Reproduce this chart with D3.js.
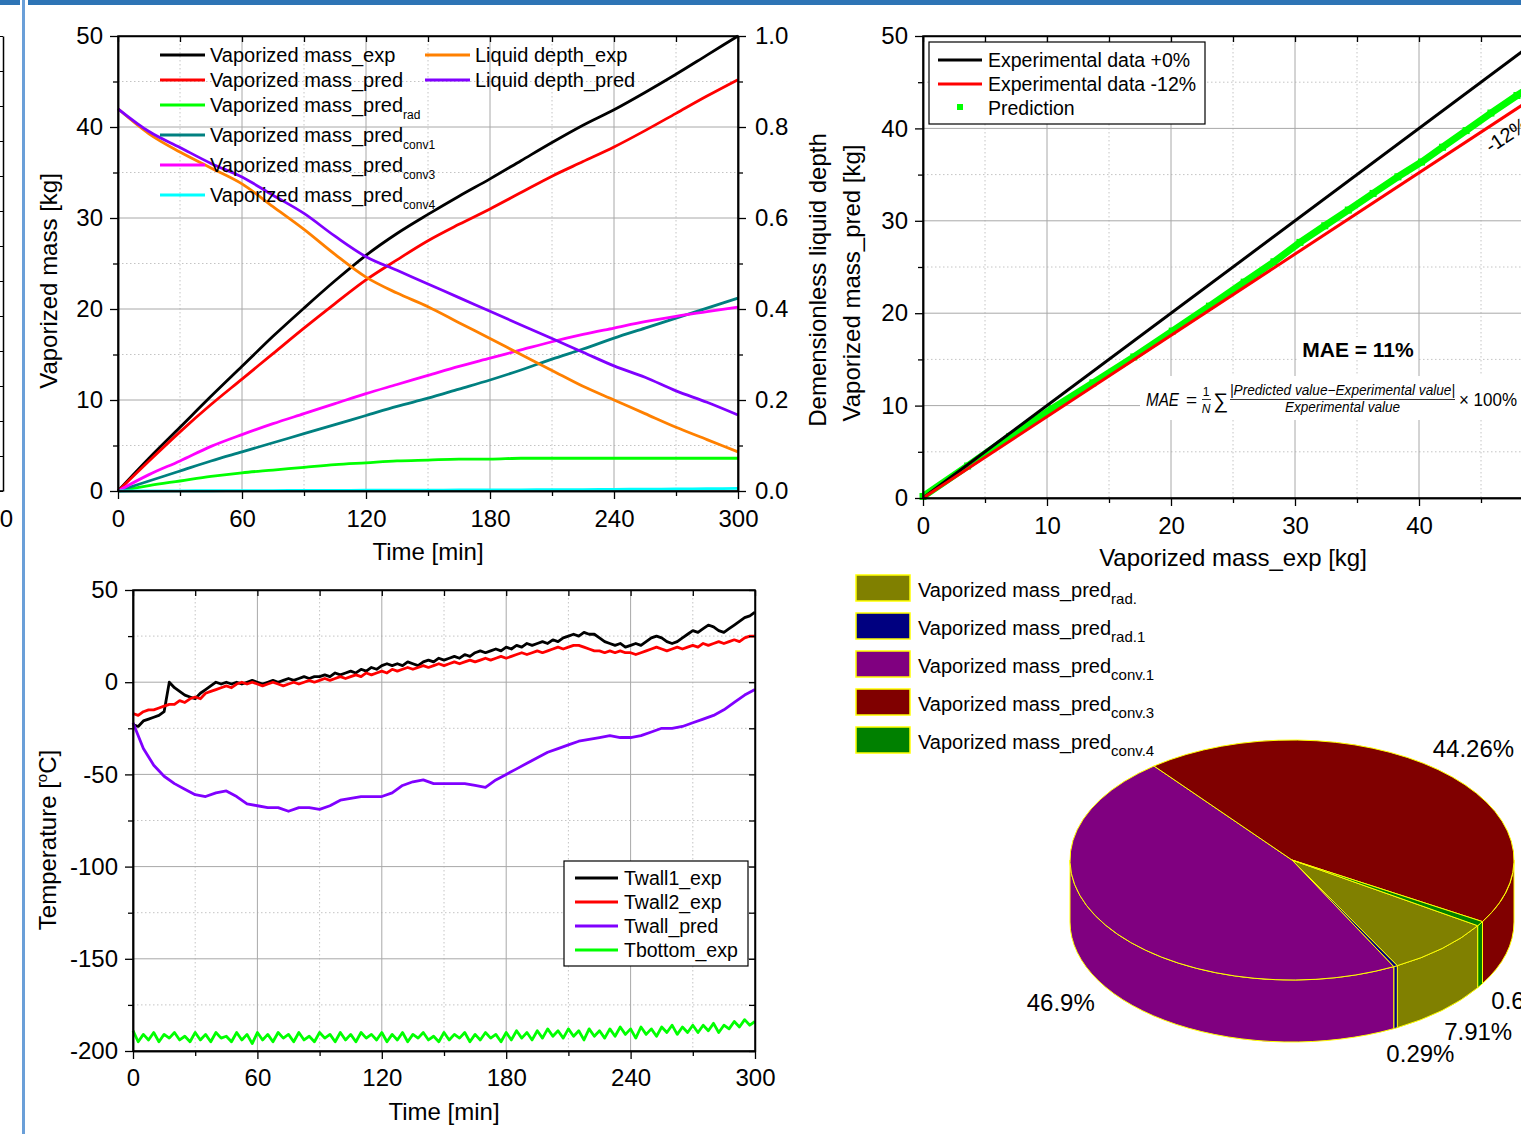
<!DOCTYPE html>
<html>
<head>
<meta charset="utf-8">
<script src="https://cdn.jsdelivr.net/npm/d3@7"></script>
<style>
  body { margin: 0; background: #fff; }
  svg text { font-family: "Liberation Sans", Arial, sans-serif; fill: #000; }
  .major { stroke: #a8a8a8; stroke-width: 1; }
  .minor { stroke: #c4c4c4; stroke-width: 1; stroke-dasharray: 1.5 2.5; }
  .frame { fill: none; stroke: #000; stroke-width: 1.5; }
</style>
</head>
<body>
<svg id="fig" width="1521" height="1134"></svg>
<script>
// ---- top-left: vaporized mass / liquid depth vs time ----
const tA = [0, 15, 30, 45, 60, 75, 90, 105, 120, 135, 150, 165, 180, 195, 210, 225, 240, 255, 270, 285, 300];
const massExp   = [0, 3.6, 7.0, 10.4, 13.7, 17.0, 20.1, 23.1, 25.9, 28.3, 30.4, 32.4, 34.3, 36.3, 38.3, 40.2, 41.9, 43.8, 45.8, 47.9, 50.0];
const massPred  = [0, 3.3, 6.5, 9.5, 12.3, 15.1, 17.9, 20.6, 23.2, 25.4, 27.5, 29.3, 31.0, 32.8, 34.6, 36.2, 37.8, 39.6, 41.5, 43.4, 45.2];
const massRad   = [0, 0.6, 1.1, 1.6, 2.0, 2.3, 2.6, 2.9, 3.1, 3.3, 3.4, 3.5, 3.5, 3.6, 3.6, 3.6, 3.6, 3.6, 3.6, 3.6, 3.6];
const massConv1 = [0, 1.1, 2.2, 3.3, 4.3, 5.3, 6.3, 7.3, 8.3, 9.3, 10.2, 11.2, 12.2, 13.3, 14.5, 15.6, 16.8, 17.9, 19.0, 20.1, 21.2];
const massConv3 = [0, 1.8, 3.3, 4.9, 6.2, 7.4, 8.5, 9.6, 10.7, 11.7, 12.7, 13.7, 14.6, 15.5, 16.4, 17.2, 17.9, 18.6, 19.2, 19.7, 20.2];
const massConv4 = [0, 0.01, 0.02, 0.03, 0.04, 0.05, 0.06, 0.07, 0.08, 0.09, 0.10, 0.11, 0.12, 0.13, 0.15, 0.16, 0.18, 0.20, 0.22, 0.25, 0.28];
const depthExp  = [0.84, 0.785, 0.745, 0.71, 0.675, 0.625, 0.575, 0.52, 0.47, 0.435, 0.405, 0.37, 0.335, 0.30, 0.265, 0.23, 0.20, 0.17, 0.14, 0.113, 0.086];
const depthPred = [0.84, 0.79, 0.755, 0.72, 0.69, 0.65, 0.61, 0.56, 0.515, 0.485, 0.455, 0.425, 0.395, 0.365, 0.335, 0.305, 0.275, 0.25, 0.22, 0.195, 0.167];

// ---- top-right: parity plot ----
const refFactors = [1.0, 0.88];
const refNames = ["Experimental data +0%", "Experimental data -12%", "Prediction"];

// ---- bottom-left: temperatures, sampled every 2.5 min (purple every 5 min) ----
const stepC = 2.5;
const twall1 = [-23,-24,-21,-20,-19,-18,-16,0,-3,-5,-7,-8,-9,-6,-4,-2,0,-1,0,-1,
  0,-1,0,1,0,-1,0,1,0,1,2,1,2,3,2,3,3,4,3,5,
  4,5,6,5,7,6,8,7,9,10,9,10,9,11,10,9,11,12,11,13,
  12,13,14,13,15,14,16,17,16,17,18,17,19,18,20,19,21,20,21,22,
  21,23,22,24,25,26,25,27,26,26,24,22,21,20,21,19,20,21,20,22,
  24,25,24,22,21,22,24,26,28,27,29,31,30,28,27,29,31,33,35,36,38];
const twall2 = [-17,-18,-16,-15,-15,-14,-13,-12,-12,-10,-11,-9,-8,-9,-6,-5,-4,-3,-2,-3,
  -1,0,-1,0,-1,-2,-1,0,-1,-2,-1,0,-1,0,1,0,1,2,1,2,
  3,2,3,4,3,5,4,5,6,5,7,6,7,8,7,8,9,8,9,10,
  9,10,11,10,11,12,11,12,13,12,13,14,13,14,15,16,15,16,17,16,
  17,18,19,18,19,20,20,19,18,17,17,16,17,16,17,16,16,15,16,17,
  18,19,18,17,18,19,18,19,20,19,21,20,21,22,21,22,23,22,24,25,25];
const tbottom = [-189,-195,-191,-194,-190,-195,-191,-193,-190,-194,
  -192,-195,-190,-194,-191,-195,-190,-193,-192,-195,
  -190,-194,-191,-196,-190,-194,-191,-195,-190,-193,
  -191,-195,-190,-194,-192,-195,-190,-193,-191,-195,
  -190,-194,-191,-195,-190,-193,-191,-194,-190,-195,
  -191,-194,-190,-195,-191,-193,-190,-194,-192,-195,
  -190,-194,-191,-193,-190,-195,-191,-194,-190,-193,
  -191,-195,-190,-194,-189,-193,-190,-194,-189,-193,
  -188,-192,-189,-193,-188,-192,-189,-194,-188,-192,
  -189,-193,-188,-192,-187,-191,-188,-193,-187,-191,
  -188,-192,-187,-190,-186,-191,-187,-190,-186,-190,
  -186,-189,-185,-190,-186,-188,-184,-187,-183,-186,-184];
const stepPurple = 5;
const twallPred = [-22,-36,-45,-51,-55,-58,-61,-62,-60,-59,-62,-66,-67,-68,-68,-70,-68,-68,-69,-67,
  -64,-63,-62,-62,-62,-60,-56,-54,-53,-55,-55,-55,-55,-56,-57,-53,-50,-47,-44,-41,
  -38,-36,-34,-32,-31,-30,-29,-30,-30,-29,-27,-25,-25,-24,-22,-20,-18,-15,-11,-7,-4];

// ---- pie ----
const pieNames  = ["rad.", "rad.1", "conv.1", "conv.3", "conv.4"];
const pieShares = [7.91, 0.29, 46.9, 44.26, 0.64];
const pieColors = ["#808000", "#000080", "#800080", "#800000", "#008000"];

const svg = d3.select("#fig");
const FONT = '"Liberation Sans", Arial, sans-serif';
const plain = d => String(d);   // hyphen minus, like the original

// header band / left strip (cropped neighbouring panel)
svg.append("rect").attr("x", 0).attr("y", 0).attr("width", 20).attr("height", 5).attr("fill", "#2e74b5");
svg.append("rect").attr("x", 28).attr("y", 0).attr("width", 1493).attr("height", 5).attr("fill", "#2e74b5");
svg.append("rect").attr("x", 22).attr("y", 0).attr("width", 3).attr("height", 1134).attr("fill", "#6a9fd8");
const yStrip = d3.scaleLinear().domain([0, 13]).range([491, 36]);
svg.append("g").attr("transform", "translate(3,0)")
  .call(d3.axisLeft(yStrip).ticks(13).tickSize(3).tickSizeOuter(0).tickFormat(""))
  .call(g => g.select(".domain").attr("stroke-width", 1.5));
svg.append("line").attr("x1", 0).attr("x2", 3).attr("y1", 491).attr("y2", 491).attr("stroke", "#000").attr("stroke-width", 1.5);
svg.append("text").attr("x", 13).attr("y", 527).attr("text-anchor", "end").style("font-size", "24px").text("30");

// ---- helpers ----
function grid(g, x, y, xv, yv, cls) {
  const [xa, xb] = x.range(), [yb, ya] = y.range();
  g.selectAll(null).data(xv).join("line").attr("class", cls)
    .attr("x1", d => x(d)).attr("x2", d => x(d)).attr("y1", ya).attr("y2", yb);
  g.selectAll(null).data(yv).join("line").attr("class", cls)
    .attr("y1", d => y(d)).attr("y2", d => y(d)).attr("x1", xa).attr("x2", xb);
}

function styleAxis(g) {
  g.attr("font-family", FONT).attr("font-size", 24);
  g.selectAll(".domain").attr("stroke-width", 1.5);
  g.selectAll(".tick line").attr("stroke-width", 1.3);
  g.selectAll(".tick text").attr("fill", "#000");
}

function axes(g, x, y, c) {
  const [xa, xb] = x.range(), [yb, ya] = y.range();
  // bottom (outward, labelled)
  g.append("g").attr("transform", `translate(0,${yb})`)
    .call(d3.axisBottom(x).tickValues(c.xMajor).tickSize(8).tickSizeOuter(0).tickPadding(c.xPad).tickFormat(c.xFmt))
    .call(styleAxis);
  g.append("g").attr("transform", `translate(0,${yb})`)
    .call(d3.axisBottom(x).tickValues(c.xMinor).tickSize(5).tickSizeOuter(0).tickFormat(""))
    .call(styleAxis);
  // left (outward, labelled)
  g.append("g").attr("transform", `translate(${xa},0)`)
    .call(d3.axisLeft(y).tickValues(c.yMajor).tickSize(8).tickSizeOuter(0).tickPadding(7).tickFormat(c.yFmt))
    .call(styleAxis);
  g.append("g").attr("transform", `translate(${xa},0)`)
    .call(d3.axisLeft(y).tickValues(c.yMinor).tickSize(5).tickSizeOuter(0).tickFormat(""))
    .call(styleAxis);
  // top mirror (inward)
  g.append("g").attr("transform", `translate(0,${ya})`)
    .call(d3.axisBottom(x).tickValues(c.xMajor.concat(c.xMinor)).tickSize(6).tickSizeOuter(0).tickFormat(""))
    .call(styleAxis);
  // right mirror (inward)
  if (c.mirrorRight) {
    g.append("g").attr("transform", `translate(${xb},0)`)
      .call(d3.axisLeft(y).tickValues(c.yMajor.concat(c.yMinor)).tickSize(6).tickSizeOuter(0).tickFormat(""))
      .call(styleAxis);
  }
}

function legendRows(g, rows, x0, len, tx, fs, subFs, subDy) {
  rows.forEach(r => {
    g.append("line").attr("x1", x0).attr("x2", x0 + len).attr("y1", r.y).attr("y2", r.y)
      .attr("stroke", r.color).attr("stroke-width", 3);
    const t = g.append("text").attr("x", tx).attr("y", r.y + 7).style("font-size", fs + "px").text(r.label);
    if (r.sub) t.append("tspan").attr("dy", subDy).style("font-size", subFs + "px").text(r.sub);
  });
}

// =============== chart A (top-left) ===============
const xA = d3.scaleLinear().domain([0, 300]).range([118, 738]);
const yA = d3.scaleLinear().domain([0, 50]).range([491, 36]);
const yA2 = d3.scaleLinear().domain([0, 1]).range([491, 36]);
const gA = svg.append("g");
grid(gA, xA, yA, [30, 90, 150, 210, 270], [5, 15, 25, 35, 45], "minor");
grid(gA, xA, yA, [60, 120, 180, 240], [10, 20, 30, 40], "major");

const seriesA = [
  { label: "Vaporized mass_exp", data: massExp, color: "#000000", axis: yA },
  { label: "Vaporized mass_pred", data: massPred, color: "#ff0000", axis: yA },
  { label: "Vaporized mass_pred", sub: "rad", data: massRad, color: "#00ff00", axis: yA },
  { label: "Vaporized mass_pred", sub: "conv1", data: massConv1, color: "#008080", axis: yA },
  { label: "Vaporized mass_pred", sub: "conv3", data: massConv3, color: "#ff00ff", axis: yA },
  { label: "Vaporized mass_pred", sub: "conv4", data: massConv4, color: "#00ffff", axis: yA },
  { label: "Liquid depth_exp", data: depthExp, color: "#ff8000", axis: yA2 },
  { label: "Liquid depth_pred", data: depthPred, color: "#8000ff", axis: yA2 }
];
seriesA.forEach(s => {
  gA.append("path").datum(s.data)
    .attr("fill", "none").attr("stroke", s.color).attr("stroke-width", 2.8).attr("stroke-linejoin", "round")
    .attr("d", d3.line().curve(d3.curveMonotoneX).x((d, i) => xA(tA[i])).y(d => s.axis(d)));
});

axes(gA, xA, yA, {
  xMajor: [0, 60, 120, 180, 240, 300], xMinor: [30, 90, 150, 210, 270], xPad: 11, xFmt: plain,
  yMajor: [0, 10, 20, 30, 40, 50], yMinor: [5, 15, 25, 35, 45], yFmt: plain, mirrorRight: false
});
gA.append("g").attr("transform", "translate(738,0)")
  .call(d3.axisRight(yA2).tickValues([0, 0.2, 0.4, 0.6, 0.8, 1.0]).tickSize(8).tickSizeOuter(0).tickPadding(9).tickFormat(d3.format(".1f")))
  .call(styleAxis);
gA.append("g").attr("transform", "translate(738,0)")
  .call(d3.axisRight(yA2).tickValues([0.1, 0.3, 0.5, 0.7, 0.9]).tickSize(5).tickSizeOuter(0).tickFormat(""))
  .call(styleAxis);
gA.append("rect").attr("class", "frame").attr("x", 118).attr("y", 36).attr("width", 620).attr("height", 455);

const legA = gA.append("g");
const leftRowsY = [55, 80, 105, 135, 165, 195];
legendRows(legA, seriesA.slice(0, 6).map((s, i) => ({ ...s, y: leftRowsY[i] })), 160, 45, 210, 20, 12, 7);
legendRows(legA, seriesA.slice(6).map((s, i) => ({ ...s, y: [55, 80][i] })), 425, 45, 475, 20, 12, 7);

gA.append("text").attr("x", 428).attr("y", 560).attr("text-anchor", "middle").style("font-size", "24px").text("Time [min]");
gA.append("text").attr("transform", "translate(57,281) rotate(-90)").attr("text-anchor", "middle").style("font-size", "24px").text("Vaporized mass [kg]");
gA.append("text").attr("transform", "translate(826,280) rotate(-90)").attr("text-anchor", "middle").style("font-size", "24px").text("Demensionless liquid depth");

// =============== chart B (top-right, parity) ===============
const xB = d3.scaleLinear().domain([0, 50]).range([923, 1543]);
const yB = d3.scaleLinear().domain([0, 50]).range([498, 36]);
const gB = svg.append("g");
grid(gB, xB, yB, [5, 15, 25, 35, 45], [5, 15, 25, 35, 45], "minor");
grid(gB, xB, yB, [10, 20, 30, 40], [10, 20, 30, 40], "major");

// prediction = (exp, pred) pairs from chart A
const predPts = massExp.map((e, i) => [e, massPred[i]]);
gB.append("path").datum(predPts).attr("fill", "none").attr("stroke", "#00ff00").attr("stroke-width", 7)
  .attr("d", d3.line().x(d => xB(d[0])).y(d => yB(d[1]) - 1.5));
gB.selectAll(null).data(predPts).join("rect")
  .attr("x", d => xB(d[0]) - 3.5).attr("y", d => yB(d[1]) - 5).attr("width", 7).attr("height", 7).attr("fill", "#00ff00");
gB.selectAll(null).data(refFactors).join("path")
  .attr("fill", "none").attr("stroke", (d, i) => i === 0 ? "#000" : "#ff0000").attr("stroke-width", 3)
  .attr("d", f => d3.line().x(d => xB(d)).y(d => yB(d * f))([0, 50]));

axes(gB, xB, yB, {
  xMajor: [0, 10, 20, 30, 40], xMinor: [5, 15, 25, 35, 45], xPad: 11, xFmt: plain,
  yMajor: [0, 10, 20, 30, 40, 50], yMinor: [5, 15, 25, 35, 45], yFmt: plain, mirrorRight: true
});
gB.append("rect").attr("class", "frame").attr("x", 923).attr("y", 36).attr("width", 620).attr("height", 462);

// -12% tag along the red line
const tagX = 45.8, slopeDeg = Math.atan(0.88 * 462 / 620) * 180 / Math.PI;
gB.append("text")
  .attr("transform", `translate(${xB(tagX)},${yB(tagX * 0.88) + 28}) rotate(${-slopeDeg})`)
  .style("font-size", "20px").text("-12%");

// MAE annotation
gB.append("rect").attr("x", 1298).attr("y", 337).attr("width", 120).attr("height", 23).attr("fill", "#fff");
gB.append("text").attr("x", 1358).attr("y", 357).attr("text-anchor", "middle")
  .style("font-size", "21px").style("font-weight", "bold").text("MAE = 11%");
const fm = gB.append("g").style("font-family", '"Liberation Serif", "DejaVu Serif", serif');
fm.append("rect").attr("x", 1140).attr("y", 376).attr("width", 381).attr("height", 44).attr("fill", "#fff");
fm.append("text").attr("x", 1146).attr("y", 406).style("font-size", "19px").style("font-style", "italic")
  .attr("textLength", 33).attr("lengthAdjust", "spacingAndGlyphs").text("MAE");
fm.append("text").attr("x", 1186).attr("y", 406).style("font-size", "19px").text("=");
fm.append("text").attr("x", 1206).attr("y", 396).attr("text-anchor", "middle").style("font-size", "12px").text("1");
fm.append("line").attr("x1", 1202).attr("x2", 1211).attr("y1", 399.5).attr("y2", 399.5).attr("stroke", "#000").attr("stroke-width", 0.8);
fm.append("text").attr("x", 1206).attr("y", 413).attr("text-anchor", "middle").style("font-size", "12px").style("font-style", "italic").text("N");
fm.append("text").attr("x", 1213).attr("y", 408).style("font-size", "21px").text("\u2211");
fm.append("text").attr("x", 1230).attr("y", 395).style("font-size", "14px").style("font-style", "italic")
  .attr("textLength", 225).attr("lengthAdjust", "spacingAndGlyphs").text("|Predicted value\u2212Experimental value|");
fm.append("line").attr("x1", 1230).attr("x2", 1455).attr("y1", 399.5).attr("y2", 399.5).attr("stroke", "#000").attr("stroke-width", 0.8);
fm.append("text").attr("x", 1285).attr("y", 412).style("font-size", "14px").style("font-style", "italic")
  .attr("textLength", 115).attr("lengthAdjust", "spacingAndGlyphs").text("Experimental value");
fm.append("text").attr("x", 1459).attr("y", 406).style("font-size", "18px")
  .attr("textLength", 58).attr("lengthAdjust", "spacingAndGlyphs").text("\u00d7 100%");

// legend B
const legB = gB.append("g");
legB.append("rect").attr("x", 929).attr("y", 42).attr("width", 276).attr("height", 82)
  .attr("fill", "#fff").attr("stroke", "#000").attr("stroke-width", 1.2);
[0, 1].forEach(i => legB.append("line").attr("x1", 938).attr("x2", 982).attr("y1", 60 + 24 * i).attr("y2", 60 + 24 * i)
  .attr("stroke", i === 0 ? "#000" : "#ff0000").attr("stroke-width", 3));
legB.append("rect").attr("x", 957).attr("y", 104).attr("width", 6).attr("height", 6).attr("fill", "#00ff00");
legB.selectAll(null).data(refNames).join("text")
  .attr("x", 988).attr("y", (d, i) => 67 + 24 * i).style("font-size", "19.5px").text(d => d);

gB.append("text").attr("x", 1233).attr("y", 566).attr("text-anchor", "middle").style("font-size", "24px").text("Vaporized mass_exp [kg]");
gB.append("text").attr("transform", "translate(860,283) rotate(-90)").attr("text-anchor", "middle").style("font-size", "24px").text("Vaporized mass_pred [kg]");

// =============== chart C (bottom-left, temperatures) ===============
const xC = d3.scaleLinear().domain([0, 300]).range([133, 755]);
const yC = d3.scaleLinear().domain([-200, 50]).range([1051, 590]);
const gC = svg.append("g");
grid(gC, xC, yC, [30, 90, 150, 210, 270], [-175, -125, -75, -25, 25], "minor");
grid(gC, xC, yC, [60, 120, 180, 240], [-150, -100, -50, 0], "major");

const seriesC = [
  { label: "Twall1_exp", data: twall1, step: stepC, color: "#000000" },
  { label: "Twall2_exp", data: twall2, step: stepC, color: "#ff0000" },
  { label: "Twall_pred", data: twallPred, step: stepPurple, color: "#8000ff" },
  { label: "Tbottom_exp", data: tbottom, step: stepC, color: "#00ff00" }
];
seriesC.forEach(s => {
  gC.append("path").datum(s.data)
    .attr("fill", "none").attr("stroke", s.color).attr("stroke-width", 2.8).attr("stroke-linejoin", "round")
    .attr("d", d3.line().x((d, i) => xC(i * s.step)).y(d => yC(d)));
});

axes(gC, xC, yC, {
  xMajor: [0, 60, 120, 180, 240, 300], xMinor: [30, 90, 150, 210, 270], xPad: 10, xFmt: plain,
  yMajor: [-200, -150, -100, -50, 0, 50], yMinor: [-175, -125, -75, -25, 25], yFmt: plain, mirrorRight: true
});
gC.append("rect").attr("class", "frame").attr("x", 133).attr("y", 590).attr("width", 622).attr("height", 461);

const legC = gC.append("g");
legC.append("rect").attr("x", 564).attr("y", 861).attr("width", 184).attr("height", 105)
  .attr("fill", "#fff").attr("stroke", "#000").attr("stroke-width", 1.2);
legendRows(legC, seriesC.map((s, i) => ({ ...s, y: 878 + 24 * i })), 575, 43, 624, 19.5, 12, 7);

gC.append("text").attr("x", 444).attr("y", 1120).attr("text-anchor", "middle").style("font-size", "24px").text("Time [min]");
const tt = gC.append("text").attr("transform", "translate(56,840) rotate(-90)").attr("text-anchor", "middle").style("font-size", "24px");
tt.append("tspan").text("Temperature [");
tt.append("tspan").attr("dy", -9).style("font-size", "15px").text("o");
tt.append("tspan").attr("dy", 9).text("C]");

// =============== D: 3-D pie ===============
const gD = svg.append("g");
const cx = 1292, cy = 860, rx = 222, ry = 120, depth = 62;
const pieStart = (33.2 + 90) * Math.PI / 180;
const arcsD = d3.pie().sort(null).startAngle(pieStart).endAngle(pieStart + 2 * Math.PI)(pieShares);
const pt = (a, dy = 0) => [cx + rx * Math.cos(a), cy + ry * Math.sin(a) + dy];
const th = a => a - Math.PI / 2;   // d3 pie angle -> ellipse parameter (y down)

// side walls (front half only)
const sides = [];
arcsD.forEach((a, i) => {
  const a0 = th(a.startAngle), a1 = th(a.endAngle);
  for (let k = -1; k <= 2; k++) {
    const s = Math.max(a0, 2 * Math.PI * k), e = Math.min(a1, 2 * Math.PI * k + Math.PI);
    if (e > s) sides.push({ s, e, i });
  }
});
gD.selectAll(null).data(sides).join("path")
  .attr("fill", d => pieColors[d.i]).attr("stroke", "#ffff00").attr("stroke-width", 1)
  .attr("d", d => {
    const p0 = pt(d.s), p1 = pt(d.e), q1 = pt(d.e, depth), q0 = pt(d.s, depth);
    return `M${p0}A${rx},${ry} 0 0 1 ${p1}L${q1}A${rx},${ry} 0 0 0 ${q0}Z`;
  });
// top faces
gD.selectAll(null).data(arcsD).join("path")
  .attr("fill", (d, i) => pieColors[i]).attr("stroke", "#ffff00").attr("stroke-width", 1)
  .attr("d", d => {
    const a0 = th(d.startAngle), a1 = th(d.endAngle);
    const large = a1 - a0 > Math.PI ? 1 : 0;
    return `M${cx},${cy}L${pt(a0)}A${rx},${ry} 0 ${large} 1 ${pt(a1)}Z`;
  });
// percentage labels
gD.selectAll(null).data(arcsD).join("text")
  .attr("text-anchor", "middle").style("font-size", "24px")
  .attr("x", d => cx + 1.24 * rx * Math.cos(th((d.startAngle + d.endAngle) / 2)))
  .attr("y", d => {
    const m = th((d.startAngle + d.endAngle) / 2);
    return cy + 1.24 * ry * Math.sin(m) + (Math.sin(m) > 0 ? depth : 0) + 8.5;
  })
  .text(d => d.data + "%");

// pie legend
const legD = gD.append("g");
pieNames.forEach((n, i) => {
  legD.append("rect").attr("x", 856).attr("y", 575 + 38 * i).attr("width", 54).attr("height", 26)
    .attr("fill", pieColors[i]).attr("stroke", "#ffff00").attr("stroke-width", 1.5);
  const t = legD.append("text").attr("x", 918).attr("y", 597 + 38 * i).style("font-size", "20px").text("Vaporized mass_pred");
  t.append("tspan").attr("dy", 7).style("font-size", "15px").text(n);
});
</script>
</body>
</html>
